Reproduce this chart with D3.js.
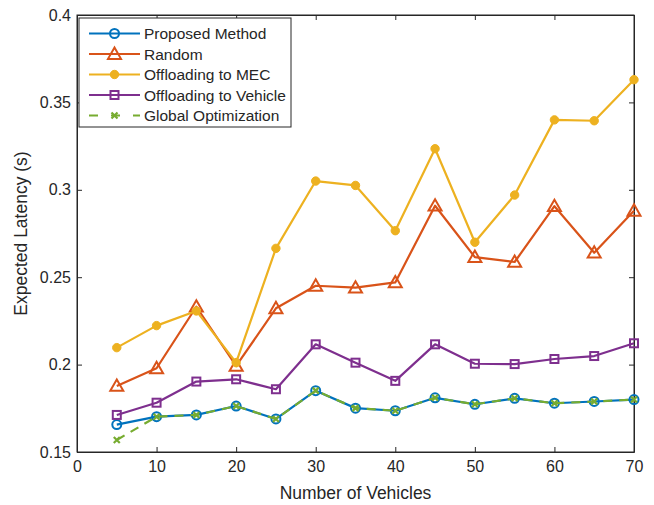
<!DOCTYPE html>
<html>
<head>
<meta charset="utf-8">
<script src="https://cdn.jsdelivr.net/npm/d3@7"></script>
<style>
  html, body { margin: 0; padding: 0; background: #fff; }
  svg { display: block; }
  text { font-family: "Liberation Sans", Arial, Helvetica, sans-serif; fill: #262626; }
</style>
</head>
<body>
<svg id="chart" width="654" height="505"></svg>
<script>
// Number of vehicles on the x axis
const vehicles = [5, 10, 15, 20, 25, 30, 35, 40, 45, 50, 55, 60, 65, 70];

// Expected latency (s) for each strategy
const proposed = [0.1657, 0.1702, 0.1712, 0.1763, 0.1689, 0.1851, 0.1751, 0.1736, 0.1810, 0.1773, 0.1807, 0.1779, 0.1789, 0.1800];
const random = [0.1878, 0.1979, 0.2331, 0.1992, 0.2322, 0.2451, 0.2440, 0.2470, 0.2909, 0.2615, 0.2587, 0.2906, 0.2640, 0.2880];
const mec = [0.2097, 0.2223, 0.2307, 0.2011, 0.2665, 0.3050, 0.3025, 0.2766, 0.3235, 0.2700, 0.2970, 0.3400, 0.3395, 0.3630];
const vehicleOffload = [0.1712, 0.1782, 0.1903, 0.1916, 0.1859, 0.2116, 0.2011, 0.1907, 0.2116, 0.2005, 0.2003, 0.2032, 0.2049, 0.2122];
const globalOpt = [0.1569, 0.1702, 0.1712, 0.1763, 0.1689, 0.1851, 0.1751, 0.1736, 0.1810, 0.1773, 0.1807, 0.1779, 0.1789, 0.1800];

const xTicks = [0, 10, 20, 30, 40, 50, 60, 70];
const yTicks = [0.15, 0.2, 0.25, 0.3, 0.35, 0.4];
const yTickLabels = ["0.15", "0.2", "0.25", "0.3", "0.35", "0.4"];

const seriesNames = ["Proposed Method", "Random", "Offloading to MEC", "Offloading to Vehicle", "Global Optimization"];

const svg = d3.select("#chart");
const plotLeft = 77, plotRight = 634, plotTop = 15, plotBottom = 452;

const x = d3.scaleLinear().domain([0, 70]).range([plotLeft, plotRight]);
const y = d3.scaleLinear().domain([0.15, 0.4]).range([plotBottom, plotTop]);

const axisColor = "#262626";
const tickLen = 5;

// Axis box
svg.append("rect")
  .attr("x", plotLeft).attr("y", plotTop)
  .attr("width", plotRight - plotLeft).attr("height", plotBottom - plotTop)
  .attr("fill", "none").attr("stroke", axisColor).attr("stroke-width", 1);

// Bottom and top axes (inward ticks)
const xBottom = d3.axisBottom(x).tickValues(xTicks).tickSizeInner(-tickLen).tickSizeOuter(0).tickPadding(9).tickFormat(d3.format("d"));
const gxb = svg.append("g").attr("transform", `translate(0,${plotBottom})`).call(xBottom);
const xTop = d3.axisTop(x).tickValues(xTicks).tickSizeInner(-tickLen).tickSizeOuter(0).tickFormat("");
const gxt = svg.append("g").attr("transform", `translate(0,${plotTop})`).call(xTop);

// Left and right axes
const yLeft = d3.axisLeft(y).tickValues(yTicks).tickSizeInner(-tickLen).tickSizeOuter(0).tickPadding(6)
  .tickFormat((d, i) => yTickLabels[i]);
const gyl = svg.append("g").attr("transform", `translate(${plotLeft},0)`).call(yLeft);
const yRight = d3.axisRight(y).tickValues(yTicks).tickSizeInner(-tickLen).tickSizeOuter(0).tickFormat("");
const gyr = svg.append("g").attr("transform", `translate(${plotRight},0)`).call(yRight);

[gxb, gxt, gyl, gyr].forEach(g => {
  g.select(".domain").attr("stroke", axisColor);
  g.selectAll(".tick line").attr("stroke", axisColor);
  g.selectAll(".tick text").attr("font-size", 16).attr("fill", axisColor)
    .style("font-family", '"Liberation Sans", Arial, sans-serif');
});

// Axis titles
svg.append("text")
  .attr("x", (plotLeft + plotRight) / 2).attr("y", 499)
  .attr("text-anchor", "middle").attr("font-size", 17.5)
  .text("Number of Vehicles");
svg.append("text")
  .attr("transform", `translate(27,${(plotTop + plotBottom) / 2}) rotate(-90)`)
  .attr("text-anchor", "middle").attr("font-size", 17.5)
  .text("Expected Latency (s)");

// Series definitions
const colors = ["#0072BD", "#D95319", "#EDB120", "#7E2F8E", "#77AC30"];
const values = [proposed, random, mec, vehicleOffload, globalOpt];
const markers = ["circle", "triangle", "dot", "square", "cross"];
const dashes = [null, null, null, null, "9,7"];

const line = d3.line().x((d, i) => x(vehicles[i])).y(d => y(d));

function drawMarker(g, type, cx, cy, color) {
  if (type === "circle") {
    g.append("circle").attr("cx", cx).attr("cy", cy).attr("r", 4.5)
      .attr("fill", "none").attr("stroke", color).attr("stroke-width", 2);
  } else if (type === "triangle") {
    const s = 6.5;
    g.append("path")
      .attr("d", `M${cx},${cy - s} L${cx + s},${cy + s * 0.75} L${cx - s},${cy + s * 0.75} Z`)
      .attr("fill", "none").attr("stroke", color).attr("stroke-width", 2);
  } else if (type === "dot") {
    g.append("circle").attr("cx", cx).attr("cy", cy).attr("r", 4.2)
      .attr("fill", color).attr("stroke", color).attr("stroke-width", 1);
  } else if (type === "square") {
    const s = 4;
    g.append("rect").attr("x", cx - s).attr("y", cy - s).attr("width", 2 * s).attr("height", 2 * s)
      .attr("fill", "none").attr("stroke", color).attr("stroke-width", 2);
  } else if (type === "cross") {
    const s = 3;
    g.append("path")
      .attr("d", `M${cx - s},${cy - s} L${cx + s},${cy + s} M${cx - s},${cy + s} L${cx + s},${cy - s}`)
      .attr("fill", "none").attr("stroke", color).attr("stroke-width", 2.2);
  }
}

const plot = svg.append("g");
values.forEach((vals, k) => {
  const g = plot.append("g");
  g.append("path").datum(vals)
    .attr("d", line)
    .attr("fill", "none")
    .attr("stroke", colors[k])
    .attr("stroke-width", 2.2)
    .attr("stroke-linejoin", "round")
    .attr("stroke-dasharray", dashes[k]);
  vals.forEach((v, i) => drawMarker(g, markers[k], x(vehicles[i]), y(v), colors[k]));
});

// Legend
const lg = svg.append("g");
lg.append("rect").attr("x", 79).attr("y", 18).attr("width", 212).attr("height", 109)
  .attr("fill", "#fff").attr("stroke", "#262626").attr("stroke-width", 1);
seriesNames.forEach((name, k) => {
  const yy = 33.5 + k * 20.5;
  lg.append("line").attr("x1", 89).attr("x2", 140).attr("y1", yy).attr("y2", yy)
    .attr("stroke", colors[k]).attr("stroke-width", 2.2)
    .attr("stroke-dasharray", dashes[k] ? "9,13" : null);
  drawMarker(lg, markers[k], 114.5, yy, colors[k]);
  lg.append("text").attr("x", 144).attr("y", yy + 5.5)
    .attr("font-size", 15.5).attr("fill", "#000").text(name);
});
</script>
</body>
</html>
